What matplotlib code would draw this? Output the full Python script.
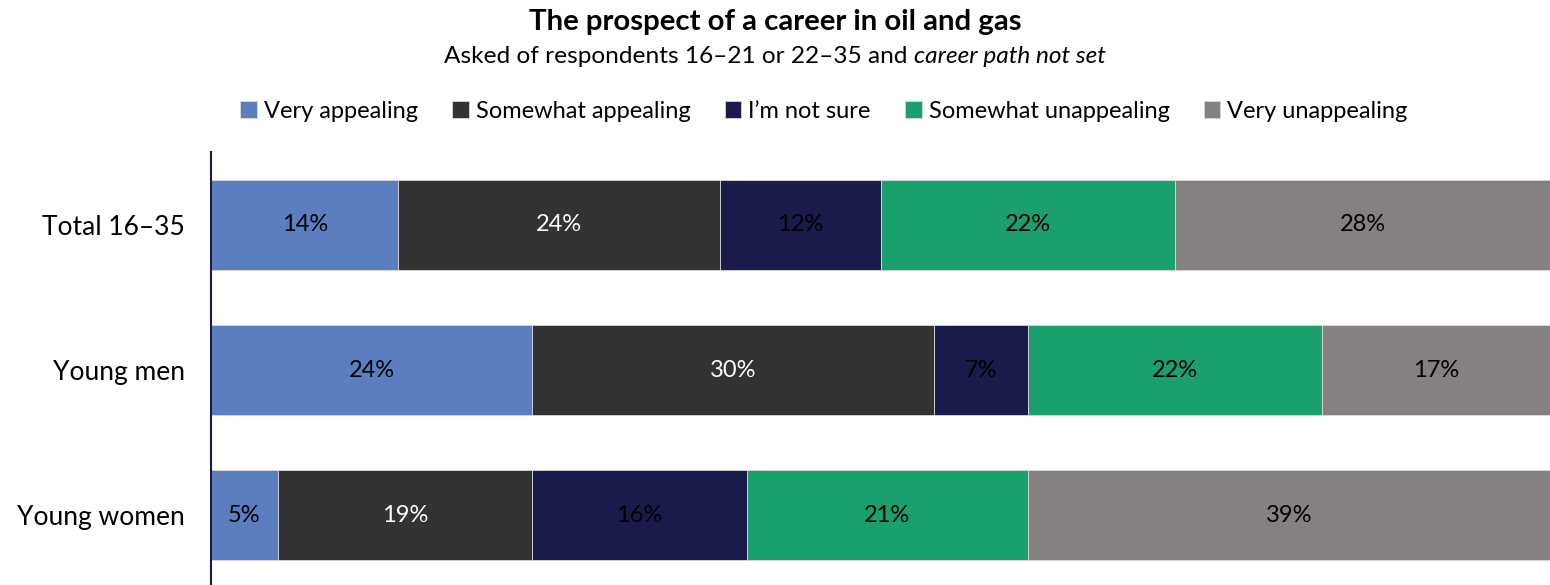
import matplotlib
matplotlib.use("Agg")
import matplotlib.pyplot as plt
import numpy as np

plt.rcParams['font.family'] = ['Lato', 'DejaVu Sans']

groups = ["Total 16–35", "Young men", "Young women"]
responses = ["Very appealing", "Somewhat appealing", "I\u2019m not sure",
             "Somewhat unappealing", "Very unappealing"]
very_appealing = [14, 24, 5]
somewhat_appealing = [24, 30, 19]
not_sure = [12, 7, 16]
somewhat_unappealing = [22, 22, 21]
very_unappealing = [28, 17, 39]

series = [very_appealing, somewhat_appealing, not_sure,
          somewhat_unappealing, very_unappealing]
colors = ["#5b7ec0", "#333333", "#1b1b4b", "#1aa06c", "#858180"]
label_colors = ["black", "white", "black", "black", "black"]

fig = plt.figure(figsize=(15.5, 5.85), dpi=100)
ax = fig.add_axes([211 / 1550, -0.005, 1 - 211 / 1550, 0.745])

y = np.arange(len(groups))
left = np.zeros(len(groups))
handles = []
for vals, name, col, tcol in zip(series, responses, colors, label_colors):
    vals = np.array(vals, dtype=float)
    bars = ax.barh(y, vals, left=left, height=0.62, color=col,
                   edgecolor="#d9d9d9", linewidth=0.6, label=name)
    handles.append(bars)
    for yi, (l, v) in enumerate(zip(left, vals)):
        ax.text(l + v / 2, yi, f"{v:.0f}%", ha="center", va="center",
                fontsize=17, color=tcol)
    left += vals

ax.set_xlim(0, 100)
ax.set_ylim(2.5, -0.5)
ax.set_yticks(y)
ax.set_yticklabels(groups, fontsize=19)
ax.tick_params(axis="y", length=0, pad=19)
ax.set_xticks([])
for s in ["top", "right", "bottom"]:
    ax.spines[s].set_visible(False)
ax.spines["left"].set_color("#1b1b4b")
ax.spines["left"].set_linewidth(1.5)

fig.text(0.5, 0.962, "The prospect of a career in oil and gas",
         ha="center", va="center", fontsize=21.2, fontweight="bold")
sub1 = "Asked of respondents 16–21 or 22–35 and "
sub2 = "career path not set"
t1 = fig.text(0.5, 0.903, sub1, ha="left", va="center", fontsize=17.6)
t2 = fig.text(0.5, 0.903, sub2, ha="left", va="center", fontsize=17.6,
              style="italic")
fig.canvas.draw()
r = fig.canvas.get_renderer()
w1 = t1.get_window_extent(r).width / fig.bbox.width
w2 = t2.get_window_extent(r).width / fig.bbox.width
start = 0.5 - (w1 + w2) / 2
t1.set_x(start)
t2.set_x(start + w1)

fig.legend(handles=handles, loc="center", bbox_to_anchor=(824 / 1550, 0.81),
           ncol=5, frameon=False, fontsize=17, handlelength=0.7,
           handleheight=0.7, handletextpad=0.3, columnspacing=1.45)

fig.savefig("out.png", dpi=100)
